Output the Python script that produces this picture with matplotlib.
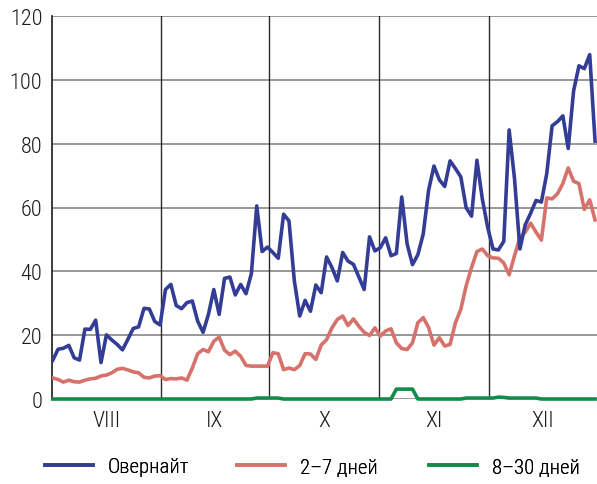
import numpy as np
import matplotlib
matplotlib.use("Agg")
import matplotlib.pyplot as plt

plt.rcParams['font.family'] = ['Roboto Condensed', 'Liberation Sans', 'DejaVu Sans']
plt.rcParams['font.weight'] = 'light'

# daily values, Aug-Dec (trading days)
overnight = [12.1, 15.6, 15.9, 16.8, 12.9, 12.2, 21.9, 21.8, 24.7, 11.4, 20.1, 18.5, 17.1, 15.4, 18.7, 22.1, 22.6, 28.4, 28.2, 24.3, 23.2,
             34.3, 35.9, 29.3, 28.3, 30.2, 30.7, 24.4, 20.9, 26.5, 34.3, 26.5, 37.8, 38.2, 32.6, 35.9, 33.0, 39.3, 60.5, 46.2, 47.6,
             45.9, 44.1, 57.9, 55.8, 37.0, 26.0, 30.9, 27.5, 35.7, 33.3, 44.5, 41.2, 37.0, 45.9, 43.2, 42.2, 38.3, 34.3, 50.8, 46.4, 47.4,
             50.5, 44.9, 45.6, 63.3, 48.6, 42.1, 45.2, 51.7, 65.4, 73.0, 68.7, 66.6, 74.6, 72.2, 69.6, 59.9, 57.3, 74.8, 62.7, 53.8,
             47.0, 46.7, 49.4, 84.3, 69.0, 47.0, 54.6, 58.2, 62.2, 61.7, 70.6, 85.6, 86.9, 88.7, 78.5, 96.5, 104.4, 103.5, 107.9, 80.8]

days_2_7 = [6.6, 6.1, 5.3, 5.9, 5.4, 5.3, 5.9, 6.3, 6.5, 7.2, 7.5, 8.2, 9.3, 9.6, 9.1, 8.5, 8.2, 6.8, 6.6, 7.2, 7.3,
            6.1, 6.4, 6.3, 6.6, 5.9, 9.7, 14.2, 15.5, 14.8, 18.1, 19.4, 15.3, 13.9, 15.0, 13.4, 10.5, 10.3, 10.3, 10.3, 10.3,
            14.5, 14.2, 9.2, 9.7, 9.2, 10.5, 14.2, 14.1, 12.4, 16.9, 18.6, 22.3, 24.9, 26.0, 23.0, 25.1, 22.8, 20.9, 19.9, 22.3, 19.7,
            21.3, 22.0, 17.6, 15.8, 15.5, 17.6, 23.9, 25.5, 22.4, 16.9, 19.2, 16.6, 17.1, 23.9, 28.1, 35.5, 41.2, 46.2, 47.0, 44.9,
            44.2, 44.1, 42.6, 38.9, 44.9, 50.5, 52.3, 55.1, 52.3, 49.8, 63.0, 62.7, 64.3, 67.5, 72.4, 68.2, 67.5, 59.4, 62.4, 56.1]

days_8_30 = [0] * 38 + [0.3] * 5 + [0] * 21 + [3.1] * 4 + [0] * 9 + [0.3] * 6 + [0.6, 0.5] + [0.3] * 6 + [0] * 11

months = ["VIII", "IX", "X", "XI", "XII"]
month_edges = [20.1, 40.3, 60.8, 81.2]

x = np.arange(len(overnight))
xmin, xmax = -0.13, 101.36

fig = plt.figure(figsize=(5.97, 4.85), dpi=100)
ax = fig.add_axes([52 / 597, 85 / 485, 1 - 52 / 597, 383 / 485])

l1, = ax.plot(x, overnight, color="#343d96", lw=2.6, label="Овернайт", zorder=4)
l2, = ax.plot(x, days_2_7, color="#d6726b", lw=2.6, label="2–7 дней", zorder=3)
l3, = ax.plot(x, days_8_30, color="#148a4b", lw=2.6, label="8–30 дней", zorder=5, clip_on=False)

ax.set_xlim(xmin, xmax)
ax.set_ylim(0, 120)
ax.set_yticks(range(0, 121, 20))
ax.yaxis.grid(True, color="#7a7a7a", lw=1.1)
for e in month_edges:
    ax.axvline(e, color="#2a2a2a", lw=1.0, zorder=1)

edges = [xmin] + month_edges + [xmax]
centers = [(edges[i] + edges[i + 1]) / 2 for i in range(len(months))]
ax.set_xticks(centers)
ax.set_xticklabels(months)
ax.tick_params(length=0, labelsize=16, colors="#1a1a1a")
ax.tick_params(axis="y", pad=7)
ax.tick_params(axis="x", pad=8)

for s in ["top", "right", "bottom"]:
    ax.spines[s].set_visible(False)
ax.spines["left"].set_color("#1a1a1a")
ax.spines["left"].set_linewidth(1.2)
ax.set_axisbelow(True)

# one legend per entry, placed like the original
for h, xpos in zip([l1, l2, l3], [45, 237, 429]):
    leg = fig.legend(handles=[h], loc="center left", bbox_to_anchor=(xpos / 597, 1 - 468 / 485),
                     frameon=False, fontsize=15, handlelength=2.3, handletextpad=0.7,
                     borderpad=0, borderaxespad=0)
    fig.add_artist(leg)

fig.savefig("out.png", dpi=100)
